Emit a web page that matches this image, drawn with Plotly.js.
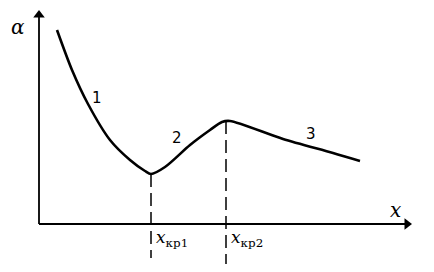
<!DOCTYPE html>
<html>
<head>
<meta charset="utf-8">
<script src="https://cdn.plot.ly/plotly-3.0.1.min.js"></script>
<style>html,body{margin:0;padding:0;background:#fff;}#chart{width:434px;height:272px;}</style>
</head>
<body>
<div id="chart"></div>
<script>
// Curve alpha(x) (arbitrary units)
const curveX = [1.8, 3.3, 4.9, 7.1, 9.1, 10.6, 11.2, 12.6, 15.1, 17.1, 18.3, 19.1, 24.4, 29.4, 32.1];
const curveY = [19.4, 15.4, 12.0, 8.4, 6.4, 5.3, 5.0, 5.7, 7.9, 9.4, 10.2, 10.3, 8.5, 7.1, 6.3];
// Critical points
const critX = [11.2, 18.7];
const critY = [5.0, 10.3];
const critLow = [-3.4, -4.0];
const critLabels = ['<i>x</i><sub>кр1</sub>', '<i>x</i><sub>кр2</sub>'];
// Branch labels
const branchLabels = ['1', '2', '3'];
const branchX = [5.8, 13.8, 27.2];
const branchY = [12.6, 8.6, 9.0];
// Axis extents
const xAxisEnd = 37.3;
const yAxisEnd = 21.4;

const traces = [{
  x: curveX, y: curveY, mode: 'lines', type: 'scatter',
  line: {color: '#000', width: 2.6, shape: 'spline', smoothing: 0.8},
  hoverinfo: 'skip', showlegend: false
}];
critX.forEach((cx, i) => {
  traces.push({
    x: [cx, cx], y: [critY[i], critLow[i]], mode: 'lines', type: 'scatter',
    line: {color: '#000', width: 1.5, dash: '13px,6px'},
    hoverinfo: 'skip', showlegend: false
  });
});
// axes
traces.push({x: [0, xAxisEnd - 0.5], y: [0, 0], mode: 'lines', type: 'scatter',
  line: {color: '#000', width: 1.8}, hoverinfo: 'skip', showlegend: false});
traces.push({x: [0, 0], y: [0, yAxisEnd - 0.5], mode: 'lines', type: 'scatter',
  line: {color: '#000', width: 1.8}, hoverinfo: 'skip', showlegend: false});
traces.push({x: [xAxisEnd - 0.5], y: [0], mode: 'markers', type: 'scatter',
  marker: {symbol: 'triangle-right', size: 10, color: '#000'}, hoverinfo: 'skip', showlegend: false});
traces.push({x: [0], y: [yAxisEnd - 0.5], mode: 'markers', type: 'scatter',
  marker: {symbol: 'triangle-up', size: 10, color: '#000'}, hoverinfo: 'skip', showlegend: false});

const ann = [];
// axis labels
ann.push({x: -2.1, y: 19.7, text: '<i>α</i>', showarrow: false,
  font: {family: 'DejaVu Serif', size: 20, color: '#000'}});
ann.push({x: 35.6, y: 1.4, text: '<i>x</i>', showarrow: false,
  font: {family: 'DejaVu Serif', size: 20, color: '#000'}});
// critical labels
critX.forEach((cx, i) => {
  ann.push({x: cx + 0.3, y: -1.4, text: critLabels[i], showarrow: false, xanchor: 'left',
    font: {family: 'DejaVu Serif', size: 17, color: '#000'}});
});
branchLabels.forEach((t, i) => {
  ann.push({x: branchX[i], y: branchY[i], text: t, showarrow: false,
    font: {family: 'DejaVu Sans', size: 15, color: '#000'}});
});

const layout = {
  width: 434, height: 272,
  margin: {l: 0, r: 0, t: 0, b: 0},
  paper_bgcolor: '#fff', plot_bgcolor: '#fff',
  xaxis: {range: [-3.9, 39.5], visible: false, fixedrange: true},
  yaxis: {range: [-4.8, 22.4], visible: false, fixedrange: true},
  annotations: ann,
  showlegend: false
};
Plotly.newPlot('chart', traces, layout, {displayModeBar: false, staticPlot: true});
</script>
</body>
</html>
